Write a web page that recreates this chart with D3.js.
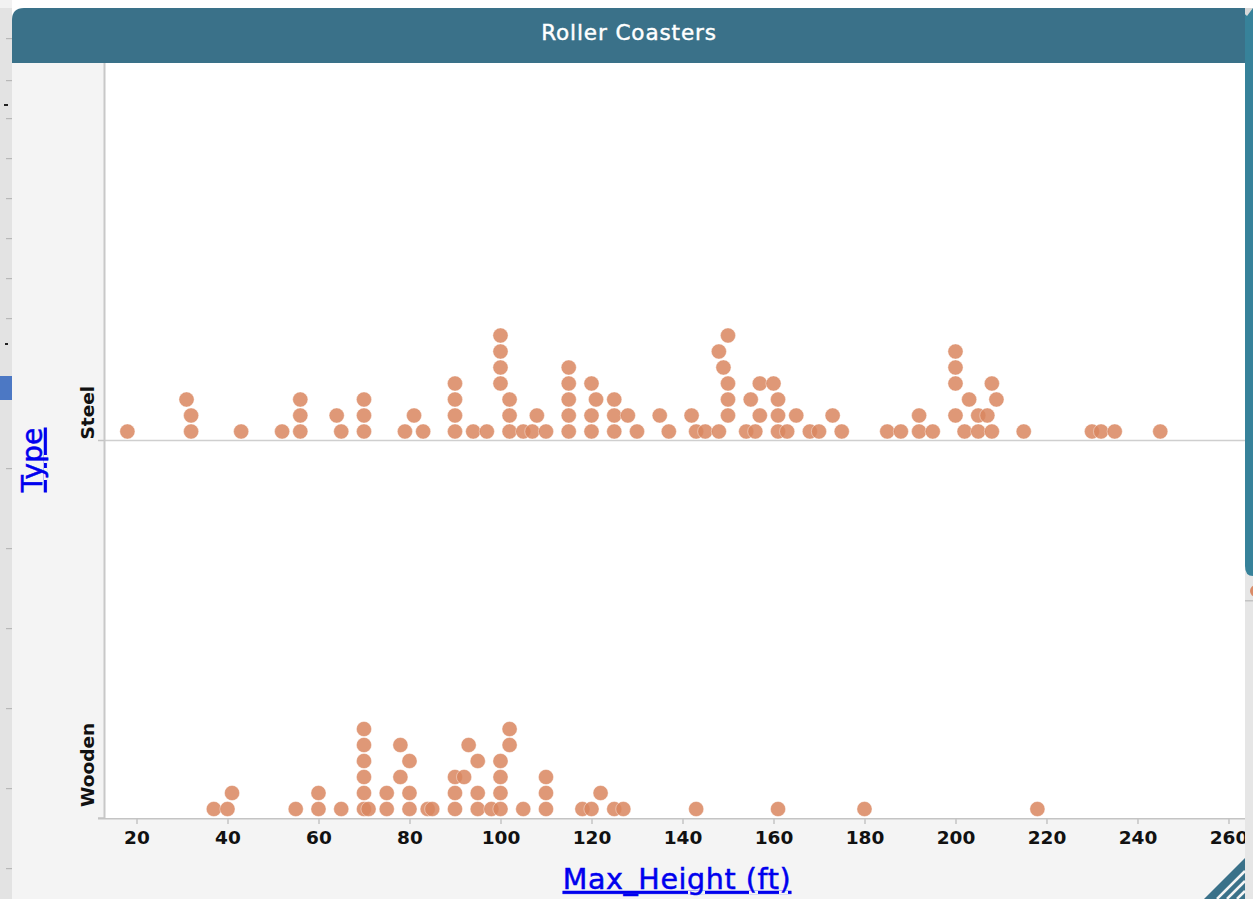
<!DOCTYPE html>
<html>
<head>
<meta charset="utf-8">
<script src="https://cdn.jsdelivr.net/npm/d3@7"></script>
<style>
  html, body { margin: 0; padding: 0; background: #ffffff; overflow: hidden; }
  svg { display: block; }
</style>
</head>
<body>
<svg id="chart" width="1253" height="899"></svg>
<script>
// ---- DATA ----
const title = "Roller Coasters";
const xLabel = "Max_Height (ft)";
const yLabel = "Type";
const categories = ["Steel", "Wooden"];
// Each inner array is one stacked column of dots, bottom to top (Max_Height in ft)
const steelStacks = [
  [18], [32, 32, 31], [43], [52], [56, 56, 56], [65, 64], [70, 70, 70],
  [79, 81], [83], [90, 90, 90, 90], [94], [97],
  [102, 102, 102, 100, 100, 100, 100], [105], [107, 108], [110],
  [115, 115, 115, 115, 115], [120, 120, 121, 120], [125, 125, 125],
  [130, 128], [137, 135], [143, 142], [145],
  [148, 150, 150, 150, 149, 148, 150], [154, 157, 155, 157], [156],
  [161, 161, 161, 160], [163, 165], [168], [170], [175, 173],
  [185], [188], [192, 192], [195], [202, 200, 203, 200, 200, 200],
  [205, 205], [208, 207, 209, 208], [215], [230], [232], [235], [245]
];
const woodenStacks = [
  [37], [40, 41], [55], [60, 60], [65], [70, 70, 70, 70, 70, 70], [71],
  [75, 75], [80, 80, 78, 80, 78], [84], [85], [90, 90, 90],
  [95, 95, 92, 95, 93], [98], [100, 100, 100, 100, 102, 102], [105],
  [110, 110, 110], [118], [120, 122], [125], [127], [143], [161], [180], [218]
];
const xTicks = [20, 40, 60, 80, 100, 120, 140, 160, 180, 200, 220, 240, 260];

// ---- LAYOUT ----
const W = 1253, H = 899;
const frame = { left: 12, top: 8, right: 1245, bottom: 899 };
const headerH = 55;
const plot = { left: 104, top: 63, right: 1245, bottom: 818 };
const dotR = 7.6, dotStep = 16;
const FONT = "DejaVu Sans, Verdana, sans-serif";

const svg = d3.select("#chart");

// page background pieces
svg.append("rect").attr("x", 0).attr("y", 0).attr("width", W).attr("height", H).attr("fill", "#ffffff");
svg.append("rect").attr("x", 0).attr("y", 0).attr("width", 12).attr("height", H).attr("fill", "#e3e3e3");
svg.append("rect").attr("x", 0).attr("y", 0).attr("width", 12).attr("height", 8).attr("fill", "#f2f2f2");
[38, 80, 118, 158, 198, 238, 278, 318, 468, 548, 628, 708, 788, 868].forEach(yy => {
  svg.append("rect").attr("x", 6).attr("y", yy).attr("width", 6).attr("height", 1.2).attr("fill", "#b8b8b8");
});
svg.append("rect").attr("x", 0).attr("y", 376).attr("width", 12).attr("height", 24).attr("fill", "#4c78c4");
svg.append("rect").attr("x", 4).attr("y", 104).attr("width", 4).attr("height", 2).attr("fill", "#222");
svg.append("rect").attr("x", 5).attr("y", 343).attr("width", 3).attr("height", 2).attr("fill", "#222");

// right side background element
svg.append("rect").attr("x", 1245).attr("y", 63).attr("width", 8).attr("height", H - 63).attr("fill", "#e6e6e6");
svg.append("rect").attr("x", 1245).attr("y", 600).attr("width", 8).attr("height", 1.5).attr("fill", "#c4c4c4");
svg.append("circle").attr("cx", 1256).attr("cy", 591).attr("r", 6).attr("fill", "#d98a66");
svg.append("path")
  .attr("d", `M1245,8 L1253,8 L1253,576 Q1245,576 1245,566 Z`)
  .attr("fill", "#37829a");
svg.append("path").attr("d", "M1238,8 L1253,8 L1247,16 Z").attr("fill", "#d8d8d8");

// frame body
svg.append("rect").attr("x", frame.left).attr("y", frame.top + 10)
  .attr("width", frame.right - frame.left).attr("height", H - frame.top - 10).attr("fill", "#f4f4f4");
// header with rounded top-left corner
svg.append("path")
  .attr("d", `M${frame.left},${frame.top + headerH} L${frame.left},${frame.top + 12} Q${frame.left},${frame.top} ${frame.left + 12},${frame.top} L${frame.right},${frame.top} L${frame.right},${frame.top + headerH} Z`)
  .attr("fill", "#3a7189");
svg.append("text").attr("x", 629).attr("y", 40)
  .attr("text-anchor", "middle")
  .attr("font-family", FONT).attr("font-size", 21.5).attr("letter-spacing", 0.9)
  .attr("fill", "#ffffff").attr("stroke", "#ffffff").attr("stroke-width", 0.45)
  .text(title);

// plot area
svg.append("rect").attr("x", plot.left).attr("y", plot.top)
  .attr("width", plot.right - plot.left).attr("height", plot.bottom - plot.top).attr("fill", "#ffffff");

// scales
const x = d3.scaleLinear().domain([12.86, 263.63]).range([plot.left, plot.right]);
const y = d3.scaleBand().domain(categories).range([plot.top, plot.bottom]).padding(0);
const lvl = d3.scaleLinear().domain([0, 1]).range([0, -dotStep]);

// clip
svg.append("defs").append("clipPath").attr("id", "clipFrame")
  .append("rect").attr("x", 0).attr("y", 0).attr("width", frame.right).attr("height", H);

// band separator
svg.append("line").attr("x1", plot.left).attr("x2", plot.right)
  .attr("y1", y("Steel") + y.bandwidth()).attr("y2", y("Steel") + y.bandwidth())
  .attr("stroke", "#cfcfcf").attr("stroke-width", 1.5);

// x axis
const xAxisG = svg.append("g").attr("clip-path", "url(#clipFrame)")
  .attr("transform", `translate(0,${plot.bottom})`)
  .call(d3.axisBottom(x).tickValues(xTicks).tickSize(6).tickPadding(7).tickFormat(d3.format("d")));
xAxisG.select(".domain").attr("stroke", "#c4c4c4").attr("stroke-width", 2)
  .attr("d", `M${plot.left - 6},0.5H${plot.right}`);
xAxisG.selectAll(".tick line").attr("stroke", "#c4c4c4").attr("stroke-width", 1.5);
xAxisG.selectAll(".tick text")
  .attr("font-family", FONT).attr("font-size", 18.5).attr("font-weight", "bold")
  .attr("fill", "#111");

// y axis
const yAxisG = svg.append("g").attr("transform", `translate(${plot.left},0)`)
  .call(d3.axisLeft(y).tickSize(0).tickFormat(""));
yAxisG.select(".domain").attr("stroke", "#c8c8c8").attr("stroke-width", 2)
  .attr("d", `M0.5,${plot.top}V${plot.bottom}`);
categories.forEach(c => {
  const yb = y(c) + y.bandwidth();
  svg.append("line").attr("x1", plot.left - 6).attr("x2", plot.left).attr("y1", yb).attr("y2", yb)
    .attr("stroke", "#c4c4c4").attr("stroke-width", 1.5);
});
const catLabelOffset = { Steel: 1, Wooden: 11 };
categories.forEach(c => {
  const yb = y(c) + y.bandwidth() - catLabelOffset[c];
  svg.append("text")
    .attr("transform", `translate(94,${yb}) rotate(-90)`)
    .attr("text-anchor", "start")
    .attr("font-family", FONT).attr("font-size", 18.5).attr("font-weight", "bold")
    .attr("fill", "#111").text(c);
});

// axis titles
svg.append("text").attr("transform", "translate(42,460) rotate(-90)")
  .attr("text-anchor", "middle")
  .attr("font-family", FONT).attr("font-size", 28)
  .attr("fill", "#0000ee").attr("stroke", "#0000ee").attr("stroke-width", 0.5)
  .attr("text-decoration", "underline").text(yLabel);
svg.append("text").attr("x", 677).attr("y", 889)
  .attr("text-anchor", "middle")
  .attr("font-family", FONT).attr("font-size", 28.5).attr("letter-spacing", 0.6)
  .attr("fill", "#0000ee").attr("stroke", "#0000ee").attr("stroke-width", 0.5)
  .attr("text-decoration", "underline").text(xLabel);

// dots
const points = [];
[[categories[0], steelStacks], [categories[1], woodenStacks]].forEach(([cat, stacks]) => {
  stacks.forEach(stack => stack.forEach((v, i) => points.push({ cat, v, level: i })));
});
svg.append("g").attr("clip-path", "url(#clipFrame)")
  .selectAll("circle").data(points).join("circle")
  .attr("cx", d => x(d.v))
  .attr("cy", d => y(d.cat) + y.bandwidth() - 9 + lvl(d.level))
  .attr("r", dotR)
  .attr("fill", "#d9865f").attr("fill-opacity", 0.85)
  .attr("stroke", "#ffffff").attr("stroke-opacity", 0.5).attr("stroke-width", 0.8);

// resize glyph bottom-right
const rg = svg.append("g");
rg.append("path").attr("d", "M1245,858 L1245,899 L1204,899 Z").attr("fill", "#3a7189");
[10, 20, 30].forEach(o => {
  rg.append("line").attr("x1", 1245 - o + 2).attr("y1", 899).attr("x2", 1245).attr("y2", 899 - o + 2)
    .attr("stroke", "#f4f4f4").attr("stroke-width", 2.5);
});
</script>
</body>
</html>
